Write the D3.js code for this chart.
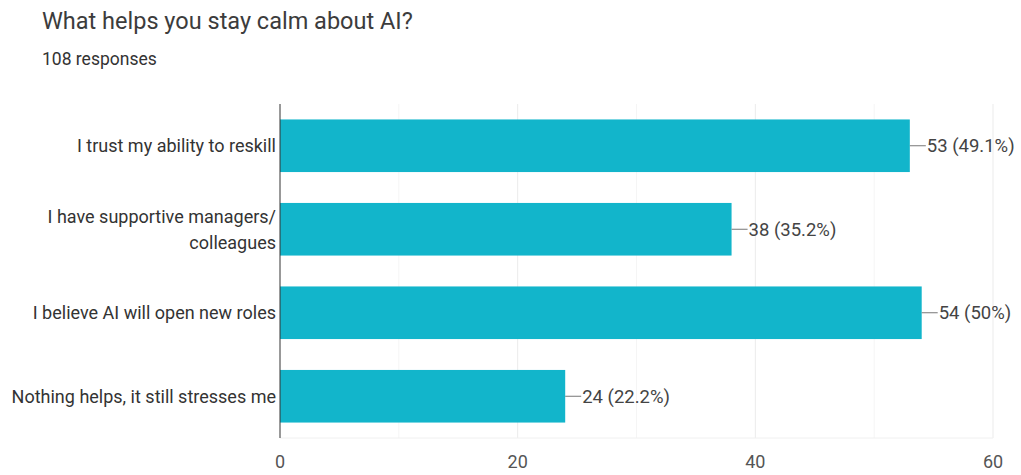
<!DOCTYPE html>
<html>
<head>
<meta charset="utf-8">
<script src="https://cdn.jsdelivr.net/npm/d3@7"></script>
<style>
  body { margin: 0; background: #fff; }
  text { font-family: Roboto, Arial, sans-serif; }
</style>
</head>
<body>
<div id="chart"></div>
<script>
var categories = [
  ["I trust my ability to reskill"],
  ["I have supportive managers/", "colleagues"],
  ["I believe AI will open new roles"],
  ["Nothing helps, it still stresses me"]
]
var counts = [53, 38, 54, 24]
var percents = ["49.1%", "35.2%", "50%", "22.2%"]
var ticks = [0, 20, 40, 60]
var total = 108

var width = 1021,
    height = 475

var svg = d3.select("#chart").append("svg")
    .attr("width", width)
    .attr("height", height)

svg.append("text")
    .attr("x", 42)
    .attr("y", 29)
    .style("font-size", "23.5px")
    .style("fill", "#3c3c3c")
    .text("What helps you stay calm about AI?")

svg.append("text")
    .attr("x", 42)
    .attr("y", 65)
    .style("font-size", "17.5px")
    .style("fill", "#333")
    .text(total + " responses")

var x = d3.scaleLinear()
    .domain([0, 60])
    .range([280, 993])

var y = d3.scaleBand()
    .domain(d3.range(categories.length))
    .range([104, 438])
    .paddingInner(0.37)
    .paddingOuter(0.185)

// gridlines
svg.selectAll("line.grid")
    .data(d3.range(10, 61, 10))
  .enter().append("line")
    .attr("x1", function(d) { return x(d) })
    .attr("x2", function(d) { return x(d) })
    .attr("y1", 104)
    .attr("y2", 438)
    .style("stroke", function(d) { return d % 20 == 0 ? "#ebebeb" : "#f5f5f5" })

svg.append("line")
    .attr("x1", 280).attr("x2", 993)
    .attr("y1", 438).attr("y2", 438)
    .style("stroke", "#f0f0f0")

svg.selectAll("rect.bar")
    .data(counts)
  .enter().append("rect")
    .attr("x", x(0))
    .attr("y", function(d, i) { return y(i) })
    .attr("width", function(d) { return x(d) - x(0) })
    .attr("height", y.bandwidth())
    .style("fill", "#12b5cb")

svg.append("line")
    .attr("x1", 280).attr("x2", 280)
    .attr("y1", 104).attr("y2", 438)
    .style("stroke", "#333")

// value labels
var labels = svg.selectAll("g.val")
    .data(counts)
  .enter().append("g")
    .attr("transform", function(d, i) { return "translate(" + x(d) + "," + (y(i) + y.bandwidth() / 2) + ")" })

labels.append("line")
    .attr("x1", 0).attr("x2", 16)
    .style("stroke", "#777")

labels.append("text")
    .attr("x", 17)
    .attr("dy", "0.35em")
    .style("font-size", "18.5px")
    .style("fill", "#444")
    .text(function(d, i) { return d + " (" + percents[i] + ")" })

// category labels
var cats = svg.selectAll("text.cat")
    .data(categories)
  .enter().append("text")
    .attr("text-anchor", "end")
    .attr("x", 276)
    .attr("y", function(d, i) { return y(i) + y.bandwidth() / 2 - (d.length - 1) * 13 })
    .style("font-size", "18px")
    .style("fill", "#333")

cats.selectAll("tspan")
    .data(function(d) { return d })
  .enter().append("tspan")
    .attr("x", 276)
    .attr("dy", function(d, i) { return i == 0 ? "0.35em" : "26px" })
    .text(function(d) { return d })

svg.selectAll("text.tick")
    .data(ticks)
  .enter().append("text")
    .attr("x", function(d) { return x(d) })
    .attr("y", 468)
    .attr("text-anchor", "middle")
    .style("font-size", "18px")
    .style("fill", "#555")
    .text(function(d) { return d })
</script>
</body>
</html>
